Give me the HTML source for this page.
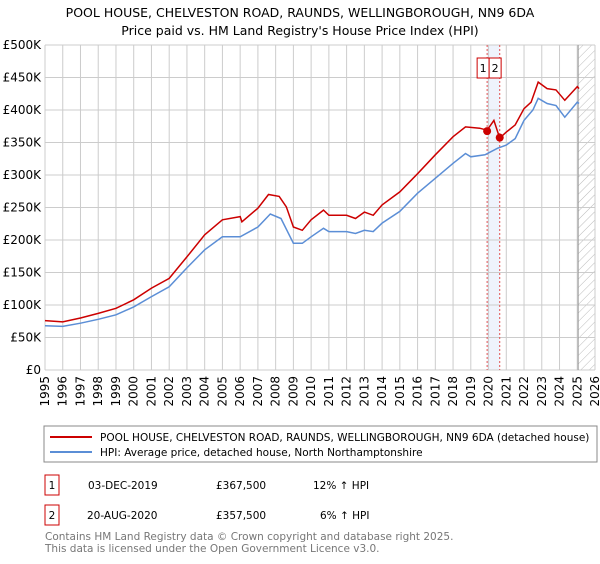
<!DOCTYPE html>
<html><head><meta charset="utf-8"><style>
body{margin:0;background:#fff;font-family:"DejaVu Sans","Liberation Sans",sans-serif;}
svg text{font-family:"DejaVu Sans","Liberation Sans",sans-serif;}
</style></head><body>
<svg id="chart" width="600" height="560" xmlns="http://www.w3.org/2000/svg">
<defs><pattern id="hatch" width="6" height="6" patternUnits="userSpaceOnUse" patternTransform="rotate(45)"><line x1="0" y1="0" x2="0" y2="6" stroke="#bbb" stroke-width="1"/></pattern></defs>
<text x="300" y="17" text-anchor="middle" font-size="12.5" fill="#000">POOL HOUSE, CHELVESTON ROAD, RAUNDS, WELLINGBOROUGH, NN9 6DA</text>
<text x="300" y="35" text-anchor="middle" font-size="12.5" fill="#000">Price paid vs. HM Land Registry's House Price Index (HPI)</text>
<g id="grid"></g>
<g id="series"></g>
<rect x="44" y="426" width="553" height="36" fill="#fff" stroke="#888"/>
<line x1="50" y1="437" x2="92" y2="437" stroke="#cc0000" stroke-width="2"/>
<text x="100" y="441" font-size="10.5">POOL HOUSE, CHELVESTON ROAD, RAUNDS, WELLINGBOROUGH, NN9 6DA (detached house)</text>
<line x1="50" y1="452" x2="92" y2="452" stroke="#5b8ed6" stroke-width="2"/>
<text x="100" y="456" font-size="10.5">HPI: Average price, detached house, North Northamptonshire</text>
<g>
<rect x="45" y="475" width="14" height="20" fill="#fff" stroke="#cc0000"/>
<text x="52" y="489" text-anchor="middle" font-size="10.5">1</text>
<text x="88" y="489" font-size="10.5">03-DEC-2019</text>
<text x="216" y="489" font-size="10.5">£367,500</text>
<text x="313" y="489" font-size="10.5">12% ↑ HPI</text></g>
<g>
<rect x="45" y="505" width="14" height="20" fill="#fff" stroke="#cc0000"/>
<text x="52" y="519" text-anchor="middle" font-size="10.5">2</text>
<text x="87" y="519" font-size="10.5">20-AUG-2020</text>
<text x="216" y="519" font-size="10.5">£357,500</text>
<text x="320" y="519" font-size="10.5">6% ↑ HPI</text></g>
<text x="45" y="540" font-size="10.5" fill="#777">Contains HM Land Registry data © Crown copyright and database right 2025.</text>
<text x="45" y="552" font-size="10.5" fill="#777">This data is licensed under the Open Government Licence v3.0.</text>
</svg>
<script>
const hpiYears=[1995,1996,1997,1998,1999,2000,2001,2002,2003,2004,2005,2006,2007,2007.7,2008.3,2009,2009.5,2010,2010.7,2011,2012,2012.5,2013,2013.5,2014,2015,2016,2017,2018,2018.7,2019,2019.8,2020.5,2021,2021.5,2022,2022.5,2022.8,2023.3,2023.8,2024.3,2025,2025.1];
const hpiValues=[68,67,72,78,85,97,113,128,157,185,205,205,220,240,233,195,195,205,218,213,213,210,215,213,226,244,272,295,318,333,328,331,341,346,356,384,400,418,410,407,389,412,410];
const propYears=[1995,1996,1997,1998,1999,2000,2001,2002,2003,2004,2005,2006,2006.1,2007,2007.6,2008.2,2008.6,2009,2009.5,2010,2010.7,2011,2012,2012.5,2013,2013.5,2014,2015,2016,2017,2018,2018.7,2019.5,2019.92,2020.3,2020.63,2021,2021.5,2022,2022.4,2022.8,2023.3,2023.8,2024.3,2025,2025.1];
const propValues=[76,74,80,87,95,108,126,141,174,208,231,236,228,249,270,267,251,220,215,231,246,238,238,233,243,238,254,274,302,331,359,374,372,369,384,357,366,377,402,412,443,433,431,415,436,433];
const saleYears=[2019.92,2020.63];
const saleValues=[367.5,357.5];
const saleLabels=["1","2"];
const yTicks=[0,50,100,150,200,250,300,350,400,450,500];
const yTickLabels=["£0","£50K","£100K","£150K","£200K","£250K","£300K","£350K","£400K","£450K","£500K"];
const xTicks=[1995,1996,1997,1998,1999,2000,2001,2002,2003,2004,2005,2006,2007,2008,2009,2010,2011,2012,2013,2014,2015,2016,2017,2018,2019,2020,2021,2022,2023,2024,2025,2026];
const L=45,R=595,T=45,B=370;
const X=y=>L+(y-1995)/(2026-1995)*(R-L);
const Y=v=>B-v/500*(B-T);
const NS="http://www.w3.org/2000/svg";
function mk(parent,tag,attrs){const e=document.createElementNS(NS,tag);for(const k in attrs)e.setAttribute(k,attrs[k]);parent.appendChild(e);return e;}
const grid=document.getElementById('grid'),ser=document.getElementById('series');
mk(grid,'rect',{x:L,y:T,width:R-L,height:B-T,fill:'#fff'});
let band=mk(grid,'rect',{x:X(saleYears[0]),y:T,width:X(saleYears[1])-X(saleYears[0]),height:B-T,fill:'#e8eefb',opacity:0.7});


let hat=mk(grid,'rect',{x:X(2025.05),y:T,width:R-X(2025.05),height:B-T,fill:'url(#hatch)'});


yTicks.forEach((v,i)=>{
 let g=mk(grid,'line',{x1:L,x2:R,y1:Y(v),y2:Y(v),stroke:'#ccc','stroke-width':1});
 
 
 let t=mk(grid,'text',{x:L-4,y:Y(v)+4,'text-anchor':'end','font-size':'12',fill:'#000'});
 t.textContent=yTickLabels[i];
 
 
});
xTicks.forEach(yr=>{
 let g=mk(grid,'line',{x1:X(yr),x2:X(yr),y1:T,y2:B,stroke:'#ccc','stroke-width':1});
 
 
 let t=mk(grid,'text',{x:X(yr)+4,y:B+6,'text-anchor':'end','font-size':'12',fill:'#000',transform:`rotate(-90 ${X(yr)+4} ${B+6})`});
 t.textContent=yr;
 
 
});
let vl=mk(grid,'line',{x1:X(2025.05),x2:X(2025.05),y1:T,y2:B,stroke:'#999','stroke-width':1});


saleYears.forEach((yr,i)=>{
 let d=mk(grid,'line',{x1:X(yr),x2:X(yr),y1:T,y2:B,stroke:'#e05050','stroke-width':1,'stroke-dasharray':'2,2'});
 
 
});
function path(xs,vs){return xs.map((x,i)=>(i?'L':'M')+X(x).toFixed(1)+','+Y(vs[i]).toFixed(1)).join('');}
let hp=mk(ser,'path',{d:path(hpiYears,hpiValues),fill:'none',stroke:'#5b8ed6','stroke-width':1.5});


let pp=mk(ser,'path',{d:path(propYears,propValues),fill:'none',stroke:'#cc0000','stroke-width':1.5});


const x0=X(saleYears[0]);
saleYears.forEach((yr,i)=>{
 let c=mk(ser,'circle',{cx:X(yr),cy:Y(saleValues[i]),r:4,fill:'#cc0000'});
 
 
 let bx=x0-10+i*12;
 let r=mk(ser,'rect',{x:bx,y:58,width:12,height:20,fill:'#fff',stroke:'#cc0000'});
 
 
 let t=mk(ser,'text',{x:bx+6,y:72,'text-anchor':'middle','font-size':'11'});
 t.textContent=saleLabels[i];
 
 
});
</script>
</body></html>
